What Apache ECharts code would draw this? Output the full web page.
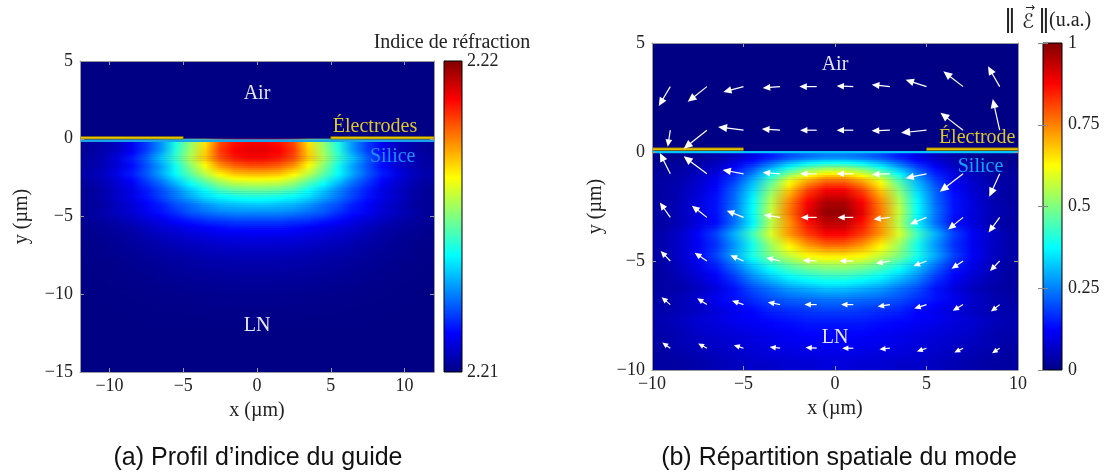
<!DOCTYPE html>
<html><head><meta charset="utf-8">
<script src="https://cdn.jsdelivr.net/npm/echarts/dist/echarts.min.js"></script>
<style>html,body{margin:0;padding:0;background:#fff}#c{width:1105px;height:475px}</style>
</head><body><div id="c"></div>
<script>
// ---------- (a) refractive-index profile: sample points (µm) and index excess Δn×1e4 above 2.21 ----------
const substrateIndex = 2.21;
const indexX = [-11.5,-10.5,-9.5,-8.5,-7.5,-6.5,-5.5,-4.5,-3.5,-2.5,-1.5,-0.5,0.5,1.5,2.5,3.5,4.5,5.5,6.5,7.5,8.5,9.5,10.5,11.5];
const indexY = [-0.25,-0.75,-1.25,-1.75,-2.25,-2.75,-3.25,-3.75,-4.25,-4.75,-5.25,-5.75,-6.25,-6.75,-7.25,-7.75,-8.25,-8.75,-9.25,-9.75,-10.25,-10.75,-11.25,-11.75];
const indexExcessE4 = [
 [2,4,6,11,18,27,40,52,65,80,86,88,88,86,80,65,52,40,27,18,11,6,4,2],
 [2,4,6,11,18,27,41,53,67,82,88,90,90,88,82,67,53,41,27,18,11,6,4,2],
 [3,5,9,15,22,32,43,55,68,80,85,87,87,85,80,68,55,43,32,22,15,9,5,3],
 [3,5,8,13,20,28,39,51,62,73,78,80,80,78,73,62,51,39,28,20,13,8,5,3],
 [4,6,10,15,21,29,38,47,56,64,69,70,70,69,64,56,47,38,29,21,15,10,6,4],
 [3,5,8,12,18,24,32,40,47,54,58,59,59,58,54,47,40,32,24,18,12,8,5,3],
 [2,4,7,10,15,20,26,33,39,45,48,49,49,48,45,39,33,26,20,15,10,7,4,2],
 [2,4,7,10,14,19,24,29,34,37,39,40,40,39,37,34,29,24,19,14,10,7,4,2],
 [2,3,6,8,12,15,20,23,27,30,31,32,32,31,30,27,23,20,15,12,8,6,3,2],
 [2,4,6,8,11,14,17,21,23,25,26,26,26,26,25,23,21,17,14,11,8,6,4,2],
 [2,3,4,6,8,10,13,15,17,18,19,19,19,19,18,17,15,13,10,8,6,4,3,2],
 [1,2,3,4,6,8,9,11,12,13,14,14,14,14,13,12,11,9,8,6,4,3,2,1],
 [1,1.5,2,3,4.5,6,7,8,9,10,10,10.5,10.5,10,10,9,8,7,6,4.5,3,2,1.5,1],
 [0.6,1.1,1.8,2.6,3.4,4.4,5.4,6.2,7,7.5,7.8,8,8,7.8,7.5,7,6.2,5.4,4.4,3.4,2.6,1.8,1.1,0.6],
 [0.5,0.9,1.4,2,2.7,3.4,4.2,4.8,5.4,5.8,6.1,6.2,6.2,6.1,5.8,5.4,4.8,4.2,3.4,2.7,2,1.4,0.9,0.5],
 [0.4,0.7,1.1,1.5,2.1,2.6,3.2,3.7,4.2,4.5,4.7,4.8,4.8,4.7,4.5,4.2,3.7,3.2,2.6,2.1,1.5,1.1,0.7,0.4],
 [0.3,0.5,0.8,1.2,1.6,2,2.5,2.9,3.2,3.5,3.6,3.7,3.7,3.6,3.5,3.2,2.9,2.5,2,1.6,1.2,0.8,0.5,0.3],
 [0.2,0.4,0.6,0.9,1.2,1.5,1.9,2.2,2.4,2.6,2.7,2.8,2.8,2.7,2.6,2.4,2.2,1.9,1.5,1.2,0.9,0.6,0.4,0.2],
 [0.2,0.3,0.5,0.7,0.9,1.2,1.4,1.6,1.8,2,2.1,2.1,2.1,2.1,2,1.8,1.6,1.4,1.2,0.9,0.7,0.5,0.3,0.2],
 [0.1,0.2,0.3,0.5,0.6,0.8,1,1.2,1.3,1.4,1.5,1.5,1.5,1.5,1.4,1.3,1.2,1,0.8,0.6,0.5,0.3,0.2,0.1],
 [0.1,0.2,0.2,0.4,0.5,0.6,0.7,0.8,1,1,1.1,1.1,1.1,1.1,1,1,0.8,0.7,0.6,0.5,0.4,0.2,0.2,0.1],
 [0.1,0.1,0.2,0.3,0.3,0.4,0.5,0.6,0.7,0.8,0.8,0.8,0.8,0.8,0.8,0.7,0.6,0.5,0.4,0.3,0.3,0.2,0.1,0.1],
 [0,0.1,0.1,0.2,0.2,0.3,0.3,0.4,0.4,0.5,0.5,0.5,0.5,0.5,0.5,0.4,0.4,0.3,0.3,0.2,0.2,0.1,0.1,0],
 [0,0,0.1,0.1,0.1,0.2,0.2,0.2,0.3,0.3,0.3,0.3,0.3,0.3,0.3,0.3,0.2,0.2,0.2,0.1,0.1,0.1,0,0]
];
const indexRange = [2.21, 2.22];
const leftElectrodes = [[-12,-5,0.06],[5,12,0.06]];
const leftSilica = [[-12,12,-0.12]];
const leftNoteText = ['Air','Électrodes','Silice','LN'];
const leftNoteX = [0, 8.0, 9.2, 0];
const leftNoteY = [2.9, 0.76, -1.15, -12.0];

// ---------- (b) mode field |E| (a.u.) ----------
const fieldX = [-9.5,-8.5,-7.5,-6.5,-5.5,-4.5,-3.5,-2.5,-1.5,-0.5,0.5,1.5,2.5,3.5,4.5,5.5,6.5,7.5,8.5,9.5];
const fieldY = [-0.25,-0.75,-1.25,-1.75,-2.25,-2.75,-3.25,-3.75,-4.25,-4.75,-5.25,-5.75,-6.25,-6.75,-7.25,-7.75,-8.25,-8.75,-9.25,-9.75];
const fieldNorm = [
 [.01,.01,.02,.04,.06,.10,.15,.20,.23,.25,.25,.23,.20,.15,.10,.06,.04,.02,.01,.01],
 [.02,.03,.05,.07,.13,.20,.30,.40,.48,.52,.52,.48,.40,.30,.20,.13,.07,.05,.03,.02],
 [.03,.04,.07,.11,.18,.29,.44,.59,.69,.75,.75,.69,.59,.44,.29,.18,.11,.07,.04,.03],
 [.03,.05,.08,.13,.22,.34,.51,.68,.81,.88,.88,.81,.68,.51,.34,.22,.13,.08,.05,.03],
 [.03,.05,.09,.14,.23,.37,.55,.74,.87,.95,.95,.87,.74,.55,.37,.23,.14,.09,.05,.03],
 [.035,.055,.09,.14,.24,.38,.57,.76,.90,.98,.98,.90,.76,.57,.38,.24,.14,.09,.055,.035],
 [.03,.05,.09,.13,.23,.36,.55,.73,.86,.94,.94,.86,.73,.55,.36,.23,.13,.09,.05,.03],
 [.04,.07,.12,.19,.30,.44,.59,.73,.82,.88,.88,.82,.73,.59,.44,.30,.19,.12,.07,.04],
 [.04,.07,.11,.17,.27,.39,.53,.64,.73,.78,.78,.73,.64,.53,.39,.27,.17,.11,.07,.04],
 [.04,.07,.12,.19,.29,.40,.50,.57,.63,.65,.65,.63,.57,.50,.40,.29,.19,.12,.07,.04],
 [.03,.06,.10,.15,.23,.32,.40,.46,.50,.52,.52,.50,.46,.40,.32,.23,.15,.10,.06,.03],
 [.03,.05,.08,.12,.18,.26,.32,.37,.40,.42,.42,.40,.37,.32,.26,.18,.12,.08,.05,.03],
 [.03,.04,.06,.09,.14,.20,.24,.28,.30,.32,.32,.30,.28,.24,.20,.14,.09,.06,.04,.03],
 [.035,.05,.075,.11,.14,.17,.20,.22,.23,.24,.24,.23,.22,.20,.17,.14,.11,.075,.05,.035],
 [.04,.05,.065,.09,.11,.13,.16,.17,.18,.19,.19,.18,.17,.16,.13,.11,.09,.065,.05,.04],
 [.045,.06,.08,.09,.11,.12,.13,.14,.15,.15,.15,.15,.14,.13,.12,.11,.09,.08,.06,.045],
 [.04,.05,.07,.08,.09,.10,.11,.12,.13,.13,.13,.13,.12,.11,.10,.09,.08,.07,.05,.04],
 [.035,.05,.06,.07,.08,.09,.10,.11,.11,.12,.12,.11,.11,.10,.09,.08,.07,.06,.05,.035],
 [.03,.04,.05,.06,.07,.08,.09,.09,.10,.10,.10,.10,.09,.09,.08,.07,.06,.05,.04,.03],
 [.03,.03,.04,.05,.06,.07,.07,.08,.08,.09,.09,.08,.08,.07,.07,.06,.05,.04,.03,.03]
];
const fieldRange = [0, 1];
const arrowX = [-9,-7,-5,-3,-1,1,3,5,7,9];
const arrowY = [3,1,-1,-3,-5,-7,-9];
const arrowU = [
 [-0.63,-1.05,-1.10,-0.95,-0.95,-0.91,-0.99,-1.14,-1.08,-0.64],
 [-0.14,-1.27,-1.39,-1.00,-0.91,-0.91,-1.00,-1.39,-1.24,-0.38],
 [-0.57,-1.27,-1.14,-0.95,-0.91,-0.91,-0.99,-1.14,-1.27,-0.57],
 [-0.57,-0.82,-0.91,-0.89,-0.86,-0.86,-0.89,-0.91,-0.82,-0.61],
 [-0.53,-0.67,-0.72,-0.76,-0.76,-0.76,-0.76,-0.72,-0.63,-0.53],
 [-0.48,-0.53,-0.63,-0.67,-0.67,-0.67,-0.67,-0.67,-0.57,-0.48],
 [-0.44,-0.48,-0.53,-0.57,-0.61,-0.61,-0.57,-0.53,-0.48,-0.42]
];
const arrowV = [
 [-0.89,-0.70,-0.25,-0.06,0,0.03,0.09,0.31,0.70,0.93],
 [-0.76,-0.85,0.15,0.06,0,0,-0.03,-0.12,0.80,1.43],
 [0.95,0.80,0.18,0.06,0,0,-0.03,-0.20,-0.82,-1.05],
 [0.68,0.54,0.31,0.11,0,0,-0.09,-0.31,-0.55,-0.69],
 [0.46,0.38,0.26,0.15,0.03,0,-0.12,-0.23,-0.35,-0.46],
 [0.34,0.29,0.18,0.11,0,0,-0.09,-0.18,-0.28,-0.32],
 [0.26,0.22,0.14,0.06,0.03,0,-0.05,-0.15,-0.20,-0.23]
];
const rightElectrodes = [[-10,-5,0.13],[5,10,0.13]];
const rightSilica = [[-10,10,-0.01]];
const rightNoteText = ['Air','Électrode','Silice','LN'];
const rightNoteX = [0, 7.77, 7.95, 0];
const rightNoteY = [4.0, 0.64, -0.66, -8.5];
const fieldTicks = [0, 0.25, 0.5, 0.75, 1];

// ---------- styling ----------
const jet = ['#000084','#0000ff','#0080ff','#00ffff','#80ff80','#ffff00','#ff8000','#ff0000','#800000'];
const SERIF = '"Liberation Serif","Times New Roman",serif';
const SANS = '"Liberation Sans",Arial,sans-serif';
const AX = '#9a9a9a';
const minus = v => (v < 0 ? '\u2212' + (-v) : String(v));

const leftRows = indexY.map((y, j) => [0, y, ...indexExcessE4[j].map(v => substrateIndex + v * 1e-4)]);
const rightRows = fieldY.map((y, j) => [0, y, ...fieldNorm[j]]);
const arrows = [];
arrowY.forEach((y, j) => arrowX.forEach((x, i) => arrows.push([x, y, arrowU[j][i], arrowV[j][i]])));

// "shading interp": each sample row is painted as a horizontal colour gradient through its samples,
// blended in a few sub-bands toward the next sample row (as in a pcolor with interpolated shading)
function shadedRows(xs, rowsData, vmin, vmax, yTop, yBottom, k) {
  const colorOf = v => echarts.color.lerp(Math.max(0, Math.min(1, (v - vmin) / (vmax - vmin))), jet);
  return function (params, api) {
    const j = params.dataIndex, cs = params.coordSys;
    const row = rowsData[j], next = rowsData[j + 1];
    const offs = xs.map(x => Math.max(0, Math.min(1, (api.coord([x, row[1]])[0] - cs.x) / cs.width)));
    const band = (yA, yB, vals) => {
      const pa = api.coord([0, yA])[1], pb = api.coord([0, yB])[1];
      return { type: 'rect', shape: { x: cs.x, y: pa, width: cs.width, height: pb - pa + 0.6 },
        style: { fill: new echarts.graphic.LinearGradient(0, 0, 1, 0,
          vals.map((v, i) => ({ offset: offs[i], color: colorOf(v) }))) } };
    };
    const vals = row.slice(2);
    const children = [];
    if (j === 0) children.push(band(yTop, row[1], vals));
    if (next) {
      const nv = next.slice(2);
      for (let m = 0; m < k; m++) {
        const s = (m + 0.5) / k;
        children.push(band(row[1] + (next[1] - row[1]) * m / k, row[1] + (next[1] - row[1]) * (m + 1) / k,
          vals.map((v, i) => v + (nv[i] - v) * s)));
      }
    } else {
      children.push(band(row[1], yBottom, vals));
    }
    return { type: 'group', children: children };
  };
}
function stripRender(h, fill, stroke) {
  return function (params, api) {
    const p0 = api.coord([api.value(0), api.value(2)]);
    const p1 = api.coord([api.value(1), api.value(2)]);
    return { type: 'rect', shape: { x: p0[0], y: p0[1] - h / 2, width: p1[0] - p0[0], height: h },
      style: { fill: fill, stroke: stroke || null, lineWidth: stroke ? 0.6 : 0 } };
  };
}
function noteRender(texts, colors) {
  return function (params, api) {
    const p = api.coord([api.value(0), api.value(1)]);
    return { type: 'text', x: p[0], y: p[1],
      style: { text: texts[params.dataIndex], fill: colors[params.dataIndex], font: '20px ' + SERIF,
        align: 'center', verticalAlign: 'middle' } };
  };
}
function arrowRender(params, api) {
  const x = api.value(0), y = api.value(1), u = api.value(2), v = api.value(3);
  const p0 = api.coord([x, y]), p1 = api.coord([x + u, y + v]);
  const dx = p1[0] - p0[0], dy = p1[1] - p0[1], L = Math.hypot(dx, dy) || 1;
  const ux = dx / L, uy = dy / L;
  const hl = Math.min(9, 4 + 0.2 * L), hw = hl * 0.45;
  const bx = p1[0] - ux * hl, by = p1[1] - uy * hl;
  return { type: 'group', children: [
    { type: 'line', shape: { x1: p0[0], y1: p0[1], x2: bx + ux, y2: by + uy }, style: { stroke: '#fff', lineWidth: 1.2 } },
    { type: 'polygon', shape: { points: [[p1[0], p1[1]], [bx - uy * hw, by + ux * hw], [bx + uy * hw, by - ux * hw]] },
      style: { fill: '#fff' } }
  ] };
}
function colorbarRender(params, api) {
  const cs = params.coordSys;
  return { type: 'rect', shape: { x: cs.x, y: cs.y, width: cs.width, height: cs.height },
    style: { fill: new echarts.graphic.LinearGradient(0, 1, 0, 0,
      jet.map((c, i) => ({ offset: i / (jet.length - 1), color: c }))), stroke: '#000', lineWidth: 1 } };
}

function plotAxes(gi, min, max, interval, isX, name, nameGap, hideEnds) {
  const main = {
    type: 'value', gridIndex: gi, min: min, max: max, z: 10,
    axisLine: { show: true, onZero: false, lineStyle: { color: AX, width: 1 } },
    axisTick: { show: true, inside: true, length: 4, lineStyle: { color: AX } },
    splitLine: { show: false },
    axisLabel: { color: '#222', fontFamily: SERIF, fontSize: 18, margin: isX ? 5 : 7, formatter: minus,
      showMinLabel: !hideEnds, showMaxLabel: !hideEnds },
    name: name, nameLocation: 'middle', nameGap: nameGap,
    nameTextStyle: { color: '#222', fontFamily: SERIF, fontSize: 20 }
  };
  if (interval) main.interval = interval; else main.splitNumber = 5;
  main.position = isX ? 'bottom' : 'left';
  const opp = JSON.parse(JSON.stringify(main));
  opp.position = isX ? 'top' : 'right';
  opp.axisLabel = { show: false }; opp.name = '';
  return [main, opp];
}

const chart = echarts.init(document.getElementById('c'), null, { renderer: 'canvas' });
const xL = plotAxes(0, -12, 12, null, true, 'x (µm)', 29, true);
const yL = plotAxes(0, -15, 5, 5, false, 'y (µm)', 48, false);
const xR = plotAxes(1, -10, 10, 5, true, 'x (µm)', 29, false);
const yR = plotAxes(1, -10, 5, 5, false, 'y (µm)', 46, false);
const TXT = '#222';

const option = {
  animation: false,
  backgroundColor: '#fff',
  grid: [
    { left: 80, top: 61, width: 354, height: 311, show: true, backgroundColor: '#000084', borderWidth: 0 },
    { left: 652, top: 43, width: 366, height: 327, show: true, backgroundColor: '#000084', borderWidth: 0 },
    { left: 444, top: 61, width: 18, height: 311 },
    { left: 1043, top: 43, width: 19, height: 327 }
  ],
  xAxis: [xL[0], xL[1], xR[0], xR[1],
    { type: 'value', gridIndex: 2, min: 0, max: 1, show: false },
    { type: 'value', gridIndex: 3, min: 0, max: 1, show: false }],
  yAxis: [yL[0], yL[1], yR[0], yR[1],
    { type: 'value', gridIndex: 2, min: indexRange[0], max: indexRange[1], interval: 0.01, position: 'right', z: 10,
      axisLine: { show: false }, axisTick: { show: false }, splitLine: { show: false },
      axisLabel: { color: TXT, fontFamily: SERIF, fontSize: 18, margin: 5, formatter: v => v.toFixed(2) } },
    { type: 'value', gridIndex: 3, min: fieldRange[0], max: fieldRange[1], interval: 0.25, position: 'right', z: 10,
      axisLine: { show: false }, axisTick: { show: true, inside: true, length: 5, lineStyle: { color: '#888' } },
      splitLine: { show: false },
      axisLabel: { color: TXT, fontFamily: SERIF, fontSize: 18, margin: 6,
        formatter: v => (fieldTicks.indexOf(v) >= 0 ? String(v) : '') } },
    { type: 'value', gridIndex: 3, min: fieldRange[0], max: fieldRange[1], interval: 0.25, position: 'left', z: 10,
      axisLine: { show: false }, axisTick: { show: true, inside: true, length: 5, lineStyle: { color: '#888' } },
      splitLine: { show: false }, axisLabel: { show: false } }
  ],
  series: [
    { type: 'custom', xAxisIndex: 0, yAxisIndex: 0, data: leftRows,
      renderItem: shadedRows(indexX, leftRows, indexRange[0], indexRange[1], 0, -12, 4), clip: true, z: 1, silent: true },
    { type: 'custom', xAxisIndex: 0, yAxisIndex: 0, data: leftSilica, renderItem: stripRender(2.6, '#18a4ec'), clip: true, z: 3, silent: true },
    { type: 'custom', xAxisIndex: 0, yAxisIndex: 0, data: leftElectrodes, renderItem: stripRender(2.6, '#e8c400', '#6e5c00'), clip: true, z: 4, silent: true },
    { type: 'custom', xAxisIndex: 0, yAxisIndex: 0, data: leftNoteX.map((x, i) => [x, leftNoteY[i]]),
      renderItem: noteRender(leftNoteText, ['#e6e6f2', '#dcc62c', '#1e8eff', '#e6e6f2']), z: 5, silent: true },

    { type: 'custom', xAxisIndex: 2, yAxisIndex: 2, data: rightRows,
      renderItem: shadedRows(fieldX, rightRows, fieldRange[0], fieldRange[1], 0, -10, 5), clip: true, z: 1, silent: true },
    { type: 'custom', xAxisIndex: 2, yAxisIndex: 2, data: rightSilica, renderItem: stripRender(2.2, '#00c4ff'), clip: true, z: 3, silent: true },
    { type: 'custom', xAxisIndex: 2, yAxisIndex: 2, data: rightElectrodes, renderItem: stripRender(2.6, '#e8c400', '#6e5c00'), clip: true, z: 4, silent: true },
    { type: 'custom', xAxisIndex: 2, yAxisIndex: 2, data: arrows, renderItem: arrowRender, clip: true, z: 5, silent: true },
    { type: 'custom', xAxisIndex: 2, yAxisIndex: 2, data: rightNoteX.map((x, i) => [x, rightNoteY[i]]),
      renderItem: noteRender(rightNoteText, ['#e6e6f2', '#dcc62c', '#10a6ff', '#e6e6f2']), z: 6, silent: true },

    { type: 'custom', xAxisIndex: 4, yAxisIndex: 4, data: [[0.5, 2.215]], renderItem: colorbarRender, z: 2, silent: true },
    { type: 'custom', xAxisIndex: 5, yAxisIndex: 5, data: [[0.5, 0.5]], renderItem: colorbarRender, z: 2, silent: true }
  ],
  graphic: [
    { type: 'text', x: 452, y: 43, style: { text: 'Indice de réfraction', font: '20px ' + SERIF, fill: TXT, align: 'center', verticalAlign: 'middle' } },
    { type: 'text', x: 1010, y: 21, style: { text: '\u2016', font: '24px "DejaVu Sans"', fill: TXT, align: 'center', verticalAlign: 'middle' } },
    { type: 'text', x: 1028, y: 23, style: { text: '\u2130', font: 'italic 20px "DejaVu Sans"', fill: TXT, align: 'center', verticalAlign: 'middle' } },
    { type: 'text', x: 1030, y: 8, style: { text: '\u2192', font: '12px "DejaVu Sans"', fill: TXT, align: 'center', verticalAlign: 'middle' } },
    { type: 'text', x: 1044, y: 21, style: { text: '\u2016', font: '24px "DejaVu Sans"', fill: TXT, align: 'center', verticalAlign: 'middle' } },
    { type: 'text', x: 1049, y: 21, style: { text: '(u.a.)', font: '20px ' + SERIF, fill: TXT, align: 'left', verticalAlign: 'middle' } },
    { type: 'text', x: 258, y: 458, style: { text: '(a) Profil d\u2019indice du guide', font: '25px ' + SANS, fill: '#111', align: 'center', verticalAlign: 'middle' } },
    { type: 'text', x: 839, y: 458, style: { text: '(b) Répartition spatiale du mode', font: '25px ' + SANS, fill: '#111', align: 'center', verticalAlign: 'middle' } }
  ]
};
chart.setOption(option);
</script></body></html>
